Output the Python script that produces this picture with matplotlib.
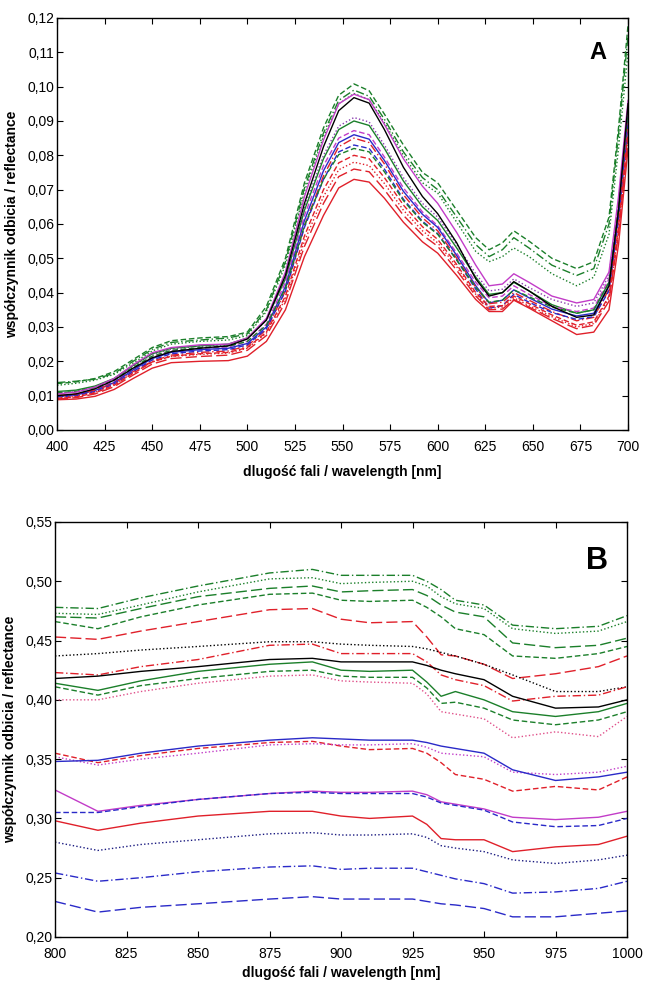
import matplotlib
matplotlib.use("Agg")
import matplotlib.pyplot as plt
from matplotlib.ticker import FuncFormatter

# ---- panel A: 400-700 nm ----
wl_a = [400, 410, 420, 430, 440, 450, 460, 475, 490, 500, 510, 520, 530, 540, 548, 556,
        564, 572, 582, 592, 600, 610, 620, 627, 634, 640, 648, 660, 673, 682, 690, 695, 700]

a_green_dash = [.0135, .0140, .0150, .0170, .0205, .0240, .0260, .0268, .0272, .0285, .0360, .0500, .0720,
                .0880, .0975, .1008, .0988, .0920, .0830, .0750, .0720, .0640, .0560, .0525, .0545, .0580,
                .0550, .0500, .0470, .0490, .0620, .0880, .1180]
a_green_dashdot = [.0138, .0142, .0148, .0165, .0200, .0235, .0255, .0262, .0268, .0280, .0350, .0490, .0705,
                   .0865, .0960, .0990, .0972, .0905, .0810, .0735, .0700, .0620, .0540, .0505, .0525, .0560,
                   .0530, .0480, .0450, .0470, .0600, .0860, .1150]
a_green_dot = [.0130, .0136, .0145, .0162, .0195, .0230, .0250, .0258, .0262, .0275, .0345, .0480, .0695,
               .0855, .0950, .0980, .0962, .0895, .0800, .0720, .0690, .0605, .0520, .0490, .0505, .0530,
               .0505, .0455, .0420, .0445, .0570, .0820, .1100]
a_magenta = [.0105, .0110, .0125, .0150, .0190, .0225, .0240, .0248, .0250, .0268, .0325, .0460, .0680,
             .0845, .0950, .0978, .0962, .0890, .0790, .0710, .0660, .0575, .0480, .0420, .0425, .0455,
             .0430, .0390, .0370, .0380, .0460, .0680, .0960]
a_black = [.0100, .0105, .0120, .0145, .0180, .0210, .0228, .0238, .0245, .0265, .0320, .0450, .0660,
           .0825, .0930, .0968, .0952, .0875, .0765, .0680, .0630, .0545, .0440, .0390, .0400, .0432,
           .0405, .0360, .0328, .0335, .0420, .0640, .0950]
a_purple_dot = [.0108, .0112, .0125, .0148, .0185, .0220, .0236, .0244, .0248, .0266, .0320, .0445, .0650,
                .0800, .0885, .0910, .0897, .0830, .0735, .0660, .0620, .0540, .0455, .0405, .0410, .0440,
                .0415, .0380, .0360, .0370, .0450, .0660, .0940]
a_green = [.0112, .0116, .0128, .0150, .0188, .0222, .0238, .0245, .0250, .0268, .0322, .0440, .0640,
           .0790, .0875, .0900, .0887, .0820, .0725, .0650, .0610, .0530, .0445, .0395, .0400, .0430,
           .0405, .0365, .0340, .0350, .0430, .0640, .0920]
a_magenta_dash = [.0100, .0104, .0118, .0140, .0178, .0212, .0230, .0238, .0242, .0258, .0308, .0430, .0625,
                  .0770, .0850, .0872, .0860, .0795, .0705, .0635, .0595, .0515, .0430, .0385, .0390, .0420,
                  .0395, .0360, .0345, .0355, .0440, .0650, .0930]
a_blue = [.0098, .0102, .0115, .0138, .0175, .0208, .0226, .0234, .0238, .0252, .0300, .0418, .0610,
          .0755, .0837, .0860, .0847, .0785, .0695, .0628, .0590, .0508, .0420, .0370, .0378, .0408,
          .0385, .0352, .0332, .0340, .0420, .0630, .0910]
a_red_dashdot = [.0100, .0104, .0116, .0136, .0170, .0200, .0218, .0226, .0230, .0245, .0292, .0405, .0595,
                 .0740, .0825, .0850, .0837, .0775, .0685, .0618, .0580, .0500, .0415, .0368, .0372, .0400,
                 .0378, .0345, .0318, .0328, .0410, .0620, .0900]
a_blue_dash = [.0096, .0100, .0112, .0134, .0170, .0204, .0222, .0230, .0234, .0248, .0295, .0405, .0590,
               .0730, .0810, .0830, .0820, .0760, .0672, .0608, .0572, .0495, .0410, .0355, .0362, .0395,
               .0372, .0342, .0322, .0330, .0405, .0610, .0890]
a_green_dash2 = [.0108, .0112, .0124, .0146, .0182, .0215, .0232, .0240, .0244, .0258, .0305, .0412, .0595,
                 .0730, .0802, .0820, .0810, .0752, .0668, .0605, .0570, .0495, .0415, .0372, .0378, .0408,
                 .0388, .0358, .0340, .0350, .0430, .0650, .0930]
a_red_dash = [.0092, .0096, .0108, .0130, .0165, .0198, .0215, .0222, .0226, .0240, .0285, .0390, .0565,
              .0700, .0778, .0800, .0790, .0735, .0655, .0592, .0555, .0482, .0400, .0360, .0362, .0390,
              .0368, .0335, .0305, .0315, .0390, .0590, .0870]
a_red_dot = [.0094, .0098, .0110, .0132, .0166, .0198, .0214, .0220, .0224, .0238, .0282, .0382, .0550,
             .0680, .0758, .0780, .0770, .0718, .0640, .0580, .0545, .0475, .0395, .0355, .0358, .0385,
             .0362, .0330, .0300, .0310, .0385, .0580, .0860]
a_red_longdash = [.0090, .0094, .0105, .0126, .0160, .0192, .0208, .0214, .0218, .0232, .0275, .0372, .0535,
                  .0660, .0738, .0760, .0752, .0700, .0625, .0568, .0535, .0465, .0390, .0350, .0352, .0380,
                  .0358, .0325, .0295, .0305, .0375, .0570, .0850]
a_red = [.0088, .0090, .0098, .0118, .0150, .0180, .0196, .0200, .0202, .0215, .0258, .0350, .0505,
         .0625, .0705, .0730, .0722, .0675, .0605, .0548, .0515, .0450, .0380, .0345, .0345, .0378,
         .0355, .0318, .0278, .0285, .0350, .0540, .0820]

# ---- panel B: 800-1000 nm ----
wl_b = [800, 815, 830, 850, 875, 890, 900, 910, 925, 930, 935, 940, 950, 960, 975, 990, 1000]

b_green_dashdot = [.478, .477, .486, .496, .507, .510, .505, .505, .505, .500, .493, .484, .480, .463, .460, .462, .471]
b_green_dot = [.473, .472, .480, .491, .502, .503, .498, .499, .500, .496, .487, .481, .477, .460, .456, .458, .466]
b_green_longdash = [.470, .469, .477, .487, .494, .496, .491, .492, .493, .488, .480, .474, .470, .448, .444, .446, .452]
b_green_dash = [.466, .460, .470, .480, .489, .490, .484, .483, .484, .478, .470, .460, .455, .437, .435, .439, .445]
b_red_longdash = [.453, .451, .458, .466, .476, .477, .468, .465, .466, .453, .438, .437, .430, .418, .422, .428, .437]
b_black_dot = [.437, .439, .442, .445, .449, .449, .447, .446, .445, .443, .440, .437, .430, .421, .407, .407, .411]
b_red_dashdot = [.423, .421, .428, .434, .446, .447, .439, .439, .439, .432, .421, .417, .412, .399, .403, .404, .411]
b_black = [.418, .420, .424, .428, .434, .435, .432, .432, .432, .429, .425, .422, .417, .403, .393, .394, .400]
b_green = [.414, .408, .416, .424, .430, .432, .425, .424, .425, .415, .403, .407, .400, .390, .386, .390, .397]
b_green_dash2 = [.411, .404, .412, .418, .424, .425, .420, .419, .419, .410, .397, .398, .393, .383, .379, .383, .390]
b_pink_dot = [.400, .400, .407, .414, .420, .421, .416, .415, .414, .405, .390, .388, .384, .368, .373, .369, .386]
b_blue = [.348, .349, .355, .361, .366, .368, .367, .366, .366, .364, .361, .359, .355, .341, .332, .335, .339]
b_red_dash = [.355, .347, .353, .359, .364, .365, .361, .358, .359, .355, .347, .337, .333, .323, .327, .324, .335]
b_magenta_dot = [.352, .345, .350, .355, .362, .363, .362, .362, .363, .360, .355, .354, .352, .339, .337, .339, .344]
b_magenta = [.324, .306, .311, .316, .321, .323, .322, .322, .323, .320, .314, .312, .308, .301, .299, .301, .306]
b_blue_dash = [.305, .305, .310, .316, .321, .322, .321, .321, .321, .318, .313, .311, .307, .297, .293, .294, .300]
b_red = [.298, .290, .296, .302, .306, .306, .302, .300, .302, .295, .283, .282, .282, .272, .276, .278, .285]
b_navy_dot = [.280, .273, .278, .282, .287, .288, .286, .286, .287, .284, .277, .275, .272, .265, .262, .265, .269]
b_blue_dashdot = [.254, .247, .250, .255, .259, .260, .257, .258, .258, .255, .252, .249, .245, .237, .238, .241, .247]
b_blue_longdash = [.230, .221, .225, .228, .232, .234, .232, .232, .232, .230, .228, .227, .224, .217, .217, .220, .222]

# colours and line styles
GREEN = "#1b7f2a"
RED = "#e0202a"
BLUE = "#2a2ac8"
MAGENTA = "#c23cc8"
PURPLE = "#8a3cb0"
NAVY = "#1a1a80"
PINK = "#e0508a"
DOT = (0, (1, 1.6))
DASH = (0, (4, 2))
LDASH = (0, (8, 3))
DDOT = (0, (6, 2, 1, 2))

series_a = [
    (a_green_dash, GREEN, DASH), (a_green_dashdot, GREEN, DDOT), (a_green_dot, GREEN, DOT),
    (a_purple_dot, PURPLE, DOT), (a_green, GREEN, "-"), (a_magenta_dash, MAGENTA, DASH),
    (a_blue, BLUE, "-"), (a_red_dashdot, RED, DDOT), (a_blue_dash, BLUE, DASH),
    (a_green_dash2, GREEN, DASH), (a_red_dash, RED, DASH), (a_red_dot, RED, DOT),
    (a_red_longdash, RED, LDASH), (a_red, RED, "-"), (a_magenta, MAGENTA, "-"), (a_black, "black", "-"),
]
series_b = [
    (b_green_dashdot, GREEN, DDOT), (b_green_dot, GREEN, DOT), (b_green_longdash, GREEN, LDASH),
    (b_green_dash, GREEN, DASH), (b_red_longdash, RED, LDASH), (b_black_dot, "black", DOT),
    (b_red_dashdot, RED, DDOT), (b_green, GREEN, "-"), (b_green_dash2, GREEN, DASH),
    (b_pink_dot, PINK, DOT), (b_red_dash, RED, DASH), (b_magenta_dot, MAGENTA, DOT),
    (b_blue, BLUE, "-"), (b_magenta, MAGENTA, "-"), (b_blue_dash, BLUE, DASH), (b_red, RED, "-"),
    (b_navy_dot, NAVY, DOT), (b_blue_dashdot, BLUE, DDOT), (b_blue_longdash, BLUE, LDASH),
    (b_black, "black", "-"),
]

plt.rcParams["font.family"] = ["Liberation Sans", "DejaVu Sans"]

fig = plt.figure(figsize=(6.45, 9.83), dpi=100)
ax_a = fig.add_axes([0.0884, 0.5626, 0.8853, 0.4191])
ax_b = fig.add_axes([0.0853, 0.0468, 0.8868, 0.4222])

comma = FuncFormatter(lambda v, p: f"{v:.2f}".replace(".", ","))


def style_axes(ax, xlim, ylim, xticks, yticks, letter, letter_y, letter_size, xpad):
    ax.set_xlim(*xlim)
    ax.set_ylim(*ylim)
    ax.set_xticks(xticks)
    ax.set_yticks(yticks)
    ax.yaxis.set_major_formatter(comma)
    ax.tick_params(direction="in", length=4, width=0.8, top=True, right=True, labelsize=10)
    ax.tick_params(axis="x", pad=7)
    ax.tick_params(axis="y", pad=2)
    for s in ax.spines.values():
        s.set_linewidth(1.0)
    ax.set_xlabel("dlugość fali / wavelength [nm]", fontsize=10, fontweight="bold", labelpad=xpad)
    ax.set_ylabel("współczynnik odbicia / reflectance", fontsize=10, fontweight="bold", labelpad=6)
    ax.text(0.947, letter_y, letter, transform=ax.transAxes, fontsize=letter_size,
            fontweight="bold", ha="center", va="center")


for vals, col, ls in series_a:
    ax_a.plot(wl_a, vals, color=col, linestyle=ls, linewidth=1.0)
style_axes(ax_a, (400, 700), (0, 0.12), range(400, 701, 25),
           [i / 100 for i in range(0, 13)], "A", 0.917, 17, 8)

for vals, col, ls in series_b:
    ax_b.plot(wl_b, vals, color=col, linestyle=ls, linewidth=1.0)
style_axes(ax_b, (800, 1000), (0.20, 0.55), range(800, 1001, 25),
           [0.20, 0.25, 0.30, 0.35, 0.40, 0.45, 0.50, 0.55], "B", 0.905, 22, 4)

fig.savefig("out.png", dpi=100)
